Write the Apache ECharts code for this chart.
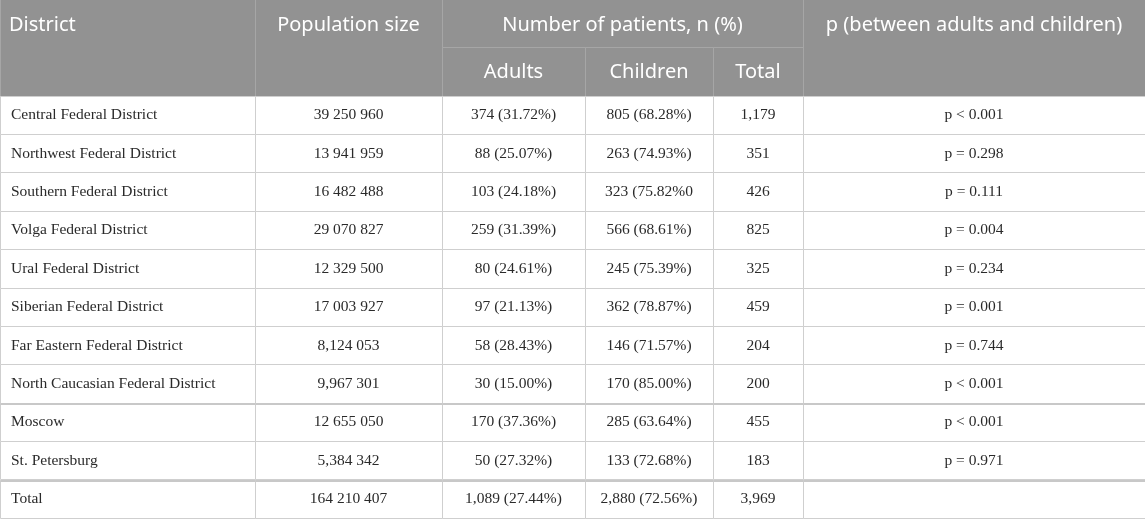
<!DOCTYPE html>
<html>
<head>
<meta charset="utf-8">
<script src="https://cdn.jsdelivr.net/npm/echarts@6/dist/echarts.min.js"></script>
<style>
  html, body { margin: 0; padding: 0; background: #fff; }
  #chart { width: 1145px; height: 519px; }
</style>
</head>
<body>
<div id="chart"></div>
<script>
// Table data
const districts = [
  'Central Federal District',
  'Northwest Federal District',
  'Southern Federal District',
  'Volga Federal District',
  'Ural Federal District',
  'Siberian Federal District',
  'Far Eastern Federal District',
  'North Caucasian Federal District',
  'Moscow',
  'St. Petersburg',
  'Total'
];
const populationSize = [
  '39 250 960', '13 941 959', '16 482 488', '29 070 827', '12 329 500',
  '17 003 927', '8,124 053', '9,967 301', '12 655 050', '5,384 342', '164 210 407'
];
const adults = [
  '374 (31.72%)', '88 (25.07%)', '103 (24.18%)', '259 (31.39%)', '80 (24.61%)',
  '97 (21.13%)', '58 (28.43%)', '30 (15.00%)', '170 (37.36%)', '50 (27.32%)', '1,089 (27.44%)'
];
const children = [
  '805 (68.28%)', '263 (74.93%)', '323 (75.82%0', '566 (68.61%)', '245 (75.39%)',
  '362 (78.87%)', '146 (71.57%)', '170 (85.00%)', '285 (63.64%)', '133 (72.68%)', '2,880 (72.56%)'
];
const totals = ['1,179', '351', '426', '825', '325', '459', '204', '200', '455', '183', '3,969'];
const pValues = [
  'p < 0.001', 'p = 0.298', 'p = 0.111', 'p = 0.004', 'p = 0.234',
  'p = 0.001', 'p = 0.744', 'p < 0.001', 'p < 0.001', 'p = 0.971', ''
];

// Header labels: [firstCol, lastCol, firstRow, lastRow, text]
const headerCells = [
  [0, 0, 0, 1, 'District'],
  [1, 1, 0, 1, 'Population size'],
  [2, 4, 0, 0, 'Number of patients, n (%)'],
  [2, 2, 1, 1, 'Adults'],
  [3, 3, 1, 1, 'Children'],
  [4, 4, 1, 1, 'Total'],
  [5, 5, 0, 1, 'p (between adults and children)']
];

// Layout
const colEdges = [0, 255, 442, 585, 713, 803, 1145];
const headerEdges = [0, 48, 95.5];
const rowH = 38.4;
const thickRows = [8, 10];

const columns = [districts, populationSize, adults, children, totals, pValues];
const bodyData = [];
districts.forEach((d, r) => {
  columns.forEach((col, c) => {
    bodyData.push([c, r, col[r]]);
  });
});

const chart = echarts.init(document.getElementById('chart'));

// crisp 1px box between two points
function box(p0, p1) {
  const x0 = Math.round(p0[0]), y0 = Math.round(p0[1]);
  const x1 = Math.round(p1[0]), y1 = Math.round(p1[1]);
  return { x: x0 + 0.5, y: y0 + 0.5, width: x1 - x0, height: y1 - y0 };
}

const option = {
  animation: false,
  backgroundColor: '#fff',
  grid: { left: 0, right: 0, top: 0, bottom: 0 },
  xAxis: { type: 'value', min: 0, max: 1145, show: false },
  yAxis: { type: 'value', min: 0, max: 519, inverse: true, show: false },
  series: [
    {
      type: 'custom',
      name: 'header',
      data: headerCells,
      renderItem: function (params, api) {
        const c0 = api.value(0), c1 = api.value(1), r0 = api.value(2), r1 = api.value(3);
        const text = headerCells[params.dataIndex][4];
        const p0 = api.coord([colEdges[c0], headerEdges[r0]]);
        const p1 = api.coord([colEdges[c1 + 1], headerEdges[r1 + 1]]);
        const left = c0 === 0;
        // text sits in the middle of the first header row
        const ty = r0 === 0 ? api.coord([0, 25.5])[1] : api.coord([0, 72.5])[1];
        const shape = box(p0, p1);
        shape.y -= 1;
        shape.height += 1;
        return {
          type: 'group',
          children: [
            {
              type: 'rect',
              shape: shape,
              style: { fill: '#929292', stroke: '#a6a6a6', lineWidth: 1 }
            },
            {
              type: 'text',
              x: left ? p0[0] + 9 : (p0[0] + p1[0]) / 2,
              y: ty,
              style: {
                text: text,
                fill: '#fff',
                font: '20px "Noto Sans", sans-serif',
                align: left ? 'left' : 'center',
                verticalAlign: 'middle'
              }
            }
          ]
        };
      }
    },
    {
      type: 'custom',
      name: 'body',
      data: bodyData,
      renderItem: function (params, api) {
        const c = api.value(0), r = api.value(1);
        const text = bodyData[params.dataIndex][2];
        const y0 = headerEdges[2] + r * rowH;
        const p0 = api.coord([colEdges[c], y0]);
        const p1 = api.coord([colEdges[c + 1], y0 + rowH]);
        const left = c === 0;
        const shape = box(p0, p1);
        const children = [
          {
            type: 'rect',
            shape: shape,
            style: { fill: '#fff', stroke: '#cfcfcf', lineWidth: 1 }
          },
          {
            type: 'text',
            x: left ? p0[0] + 11 : (p0[0] + p1[0]) / 2,
            y: (p0[1] + p1[1]) / 2 + 0.5,
            style: {
              text: text,
              fill: '#2a2a2a',
              font: '15.5px "Liberation Serif", "Times New Roman", serif',
              align: left ? 'left' : 'center',
              verticalAlign: 'middle'
            }
          }
        ];
        if (thickRows.indexOf(r) >= 0) {
          children.push({
            type: 'line',
            shape: { x1: shape.x, y1: shape.y + 0.5, x2: shape.x + shape.width, y2: shape.y + 0.5 },
            style: { stroke: '#c8c8c8', lineWidth: 2 }
          });
        }
        return { type: 'group', children: children };
      }
    }
  ]
};

chart.setOption(option);
</script>
</body>
</html>
